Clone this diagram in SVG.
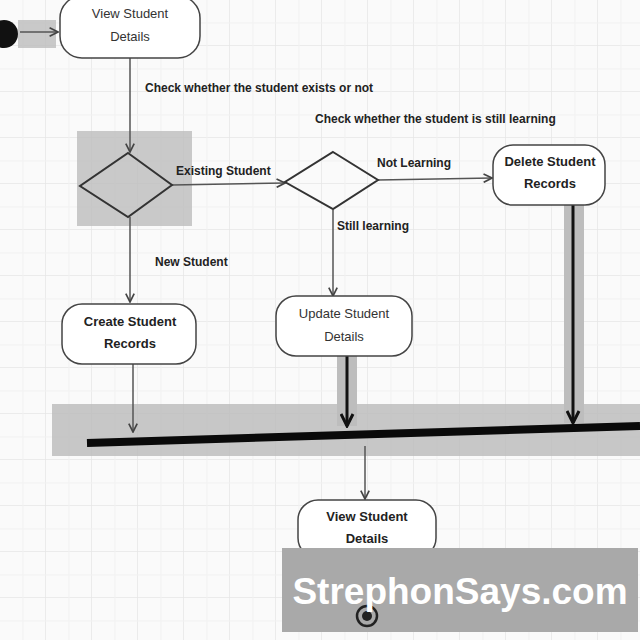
<svg xmlns="http://www.w3.org/2000/svg" width="640" height="640" viewBox="0 0 640 640">
<defs>
<pattern id="grid" width="46" height="46" patternUnits="userSpaceOnUse">
<path d="M46 0V46M0 46H46" fill="none" stroke="#e6e6e6" stroke-width="1.5"/>
<path d="M23 0V46M0 23H46" fill="none" stroke="#f1f1f1" stroke-width="1"/>
</pattern>
<marker id="ah" viewBox="0 0 10 10" refX="9" refY="5" markerWidth="7" markerHeight="7" orient="auto">
<path d="M1 1L9 5L1 9" fill="none" stroke="#444" stroke-width="1.6"/>
</marker>
<marker id="ahb" viewBox="0 0 10 10" refX="9" refY="5" markerWidth="5" markerHeight="5" orient="auto">
<path d="M1 1L9 5L1 9" fill="none" stroke="#111" stroke-width="2"/>
</marker>
</defs>
<style>
.node rect{fill:#fff;stroke:#444;stroke-width:1.5}
.nt{font-family:"Liberation Sans",Arial,sans-serif;font-size:13px;fill:#333;text-anchor:middle}
.nb{font-weight:bold;fill:#222}
.lbl{font-family:"Liberation Sans",Arial,sans-serif;font-size:12px;font-weight:bold;fill:#222}
.dia{fill:none;stroke:#333;stroke-width:2}
.edge{fill:none;stroke:#555;stroke-width:1.5;marker-end:url(#ah)}
.thick{fill:none;stroke:#111;stroke-width:3;marker-end:url(#ahb)}
.hl{fill:#bdbdbd}
</style>
<rect width="640" height="640" fill="#fafafa"/>
<rect width="640" height="640" fill="url(#grid)"/>

<g id="highlights">
<rect class="hl" x="18" y="20" width="38" height="28" fill-opacity="0.8"/>
<rect class="hl" x="77" y="131" width="115" height="95" fill-opacity="0.8"/>
<rect class="hl" x="52" y="404" width="588" height="52" fill-opacity="0.85"/>
<rect class="hl" x="337" y="356" width="20" height="70"/>
<rect class="hl" x="564" y="205" width="20" height="218"/>
</g>

<g id="connectors">
<line class="edge" x1="20" y1="32" x2="58" y2="32" stroke="#222" stroke-width="2.5"/>
<line class="edge" x1="130" y1="58" x2="130" y2="152"/>
<line class="edge" x1="172" y1="185" x2="285" y2="183"/>
<line class="edge" x1="378" y1="180" x2="492" y2="178"/>
<line class="edge" x1="333" y1="210" x2="333" y2="296"/>
<line class="edge" x1="130" y1="217" x2="130" y2="302"/>
<line class="edge" x1="133" y1="364" x2="133" y2="432"/>
<line class="thick" x1="347" y1="356" x2="347" y2="426"/>
<line class="thick" x1="573" y1="205" x2="573" y2="423"/>
<line class="edge" x1="365" y1="446" x2="365" y2="499"/>
<line x1="367" y1="558" x2="367" y2="608" stroke="#444" stroke-width="1.5"/>
<line x1="87" y1="443" x2="640" y2="426" stroke="#0a0a0a" stroke-width="8"/>
</g>

<g id="start"><circle cx="4" cy="34" r="14" fill="#111"/></g>

<g id="view1" class="node">
<rect x="60" y="-4" width="140" height="62" rx="22"/>
<text class="nt" x="130" y="18">View Student</text>
<text class="nt" x="130" y="41">Details</text>
</g>

<text class="lbl" x="145" y="92">Check whether the student exists or not</text>

<g id="decision1"><path class="dia" d="M128 153L172 185L128 217L80 186Z"/></g>
<text class="lbl" x="176" y="175">Existing Student</text>

<text class="lbl" x="315" y="123">Check whether the student is still learning</text>
<g id="decision2"><path class="dia" d="M333 152L378 180L333 209L285 182Z"/></g>
<text class="lbl" x="377" y="167">Not Learning</text>

<g id="delete" class="node">
<rect x="493" y="145" width="112" height="60" rx="20"/>
<text class="nt nb" x="550" y="166">Delete Student</text>
<text class="nt nb" x="550" y="188">Records</text>
</g>

<text class="lbl" x="337" y="230">Still learning</text>
<text class="lbl" x="155" y="266">New Student</text>

<g id="update" class="node">
<rect x="276" y="296" width="136" height="60" rx="20"/>
<text class="nt" x="344" y="318">Update Student</text>
<text class="nt" x="344" y="341">Details</text>
</g>

<g id="create" class="node">
<rect x="62" y="304" width="134" height="60" rx="20"/>
<text class="nt nb" x="130" y="326">Create Student</text>
<text class="nt nb" x="130" y="348">Records</text>
</g>

<g id="view2" class="node">
<rect x="298" y="500" width="138" height="58" rx="20"/>
<text class="nt nb" x="367" y="521">View Student</text>
<text class="nt nb" x="367" y="543">Details</text>
</g>

<g id="watermark">
<rect x="282" y="548" width="356" height="84" fill="#a9a9a9"/>
<g id="end"><circle cx="367" cy="616" r="10" fill="none" stroke="#222" stroke-width="2.5"/><circle cx="367" cy="616" r="5" fill="#222"/></g>
<text x="460" y="604" font-family="Liberation Sans,Arial,sans-serif" font-size="37" font-weight="bold" fill="#fff" text-anchor="middle">StrephonSays.com</text>
</g>
</svg>
